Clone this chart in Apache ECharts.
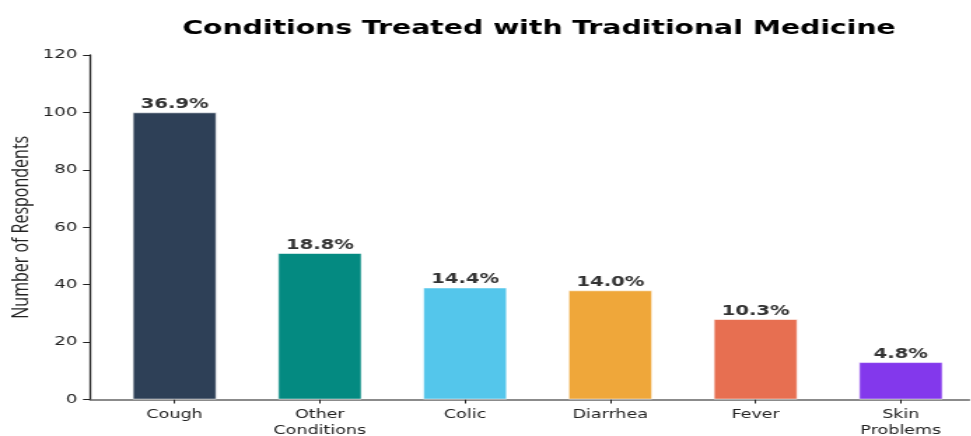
<!DOCTYPE html>
<html>
<head>
<meta charset="utf-8">
<script src="https://cdn.jsdelivr.net/npm/echarts@6/dist/echarts.min.js"></script>
<style>
  html, body { margin: 0; padding: 0; background: #ffffff; overflow: hidden; }
  #wrap { width: 971px; height: 436px; overflow: hidden; }
  /* the figure is drawn narrow and widened horizontally */
  #chart { width: 693.6px; height: 436px; transform: scaleX(1.4); transform-origin: 0 0; }
</style>
</head>
<body>
<div id="wrap"><div id="chart"></div></div>
<script>
// Conditions treated with traditional medicine (number of respondents)
const categories = ['Cough', 'Other\nConditions', 'Colic', 'Diarrhea', 'Fever', 'Skin\nProblems'];
const respondents = [100, 51, 39, 38, 28, 13];
const shareLabels = ['36.9%', '18.8%', '14.4%', '14.0%', '10.3%', '4.8%'];
const barColors = ['#2E4057', '#048A81', '#54C6EB', '#EFA73A', '#E76F51', '#8338EC'];
const yTicks = [0, 20, 40, 60, 80, 100, 120];

const positions = categories.map((_, i) => i);

const chart = echarts.init(document.getElementById('chart'), null, { renderer: 'canvas' });

chart.setOption({
  animation: false,
  backgroundColor: '#ffffff',
  title: {
    text: 'Conditions Treated with Traditional Medicine',
    left: 380,
    top: 14,
    textAlign: 'center',
    textStyle: {
      fontFamily: 'DejaVu Sans',
      fontWeight: 'bold',
      fontSize: 20.2,
      color: '#000000'
    }
  },
  grid: { left: 64.3, right: 1.6, top: 55, bottom: 36.5, outerBoundsMode: 'none', containLabel: false },
  xAxis: {
    type: 'value',
    min: -0.582,
    max: 5.472,
    splitLine: { show: false },
    axisLine: { show: true, onZero: false, lineStyle: { color: '#666666', width: 1.5 } },
    axisTick: {
      show: true,
      customValues: positions,
      length: 4,
      lineStyle: { color: '#222222', width: 1 }
    },
    axisLabel: {
      customValues: positions,
      formatter: (v) => categories[Math.round(v)],
      fontFamily: 'DejaVu Sans',
      fontSize: 12.5,
      lineHeight: 16,
      color: '#222222',
      margin: 7
    }
  },
  yAxis: {
    type: 'value',
    min: yTicks[0],
    max: yTicks[yTicks.length - 1],
    interval: 20,
    name: 'Number of Respondents',
    nameLocation: 'middle',
    nameGap: 41,
    nameMoveOverlap: false,
    nameTextStyle: {
      fontFamily: 'Open Sans',
      fontSize: 16,
      color: '#222222'
    },
    splitLine: { show: false },
    axisLine: { show: true, onZero: false, lineStyle: { color: '#222222', width: 1.3 } },
    axisTick: { show: true, length: 5, lineStyle: { color: '#222222', width: 1 } },
    axisLabel: {
      fontFamily: 'DejaVu Sans',
      fontSize: 13,
      color: '#222222',
      margin: 9
    }
  },
  series: [{
    type: 'bar',
    barWidth: 60,
    data: respondents.map((v, i) => ({
      value: [positions[i], v],
      itemStyle: { color: barColors[i], borderColor: 'rgba(255,255,255,0.7)', borderWidth: 0.8 }
    })),
    label: {
      show: true,
      position: 'top',
      distance: 1,
      formatter: (p) => shareLabels[p.dataIndex],
      fontFamily: 'DejaVu Sans',
      fontWeight: 'bold',
      fontSize: 14,
      color: '#333333'
    }
  }]
});
</script>
</body>
</html>
